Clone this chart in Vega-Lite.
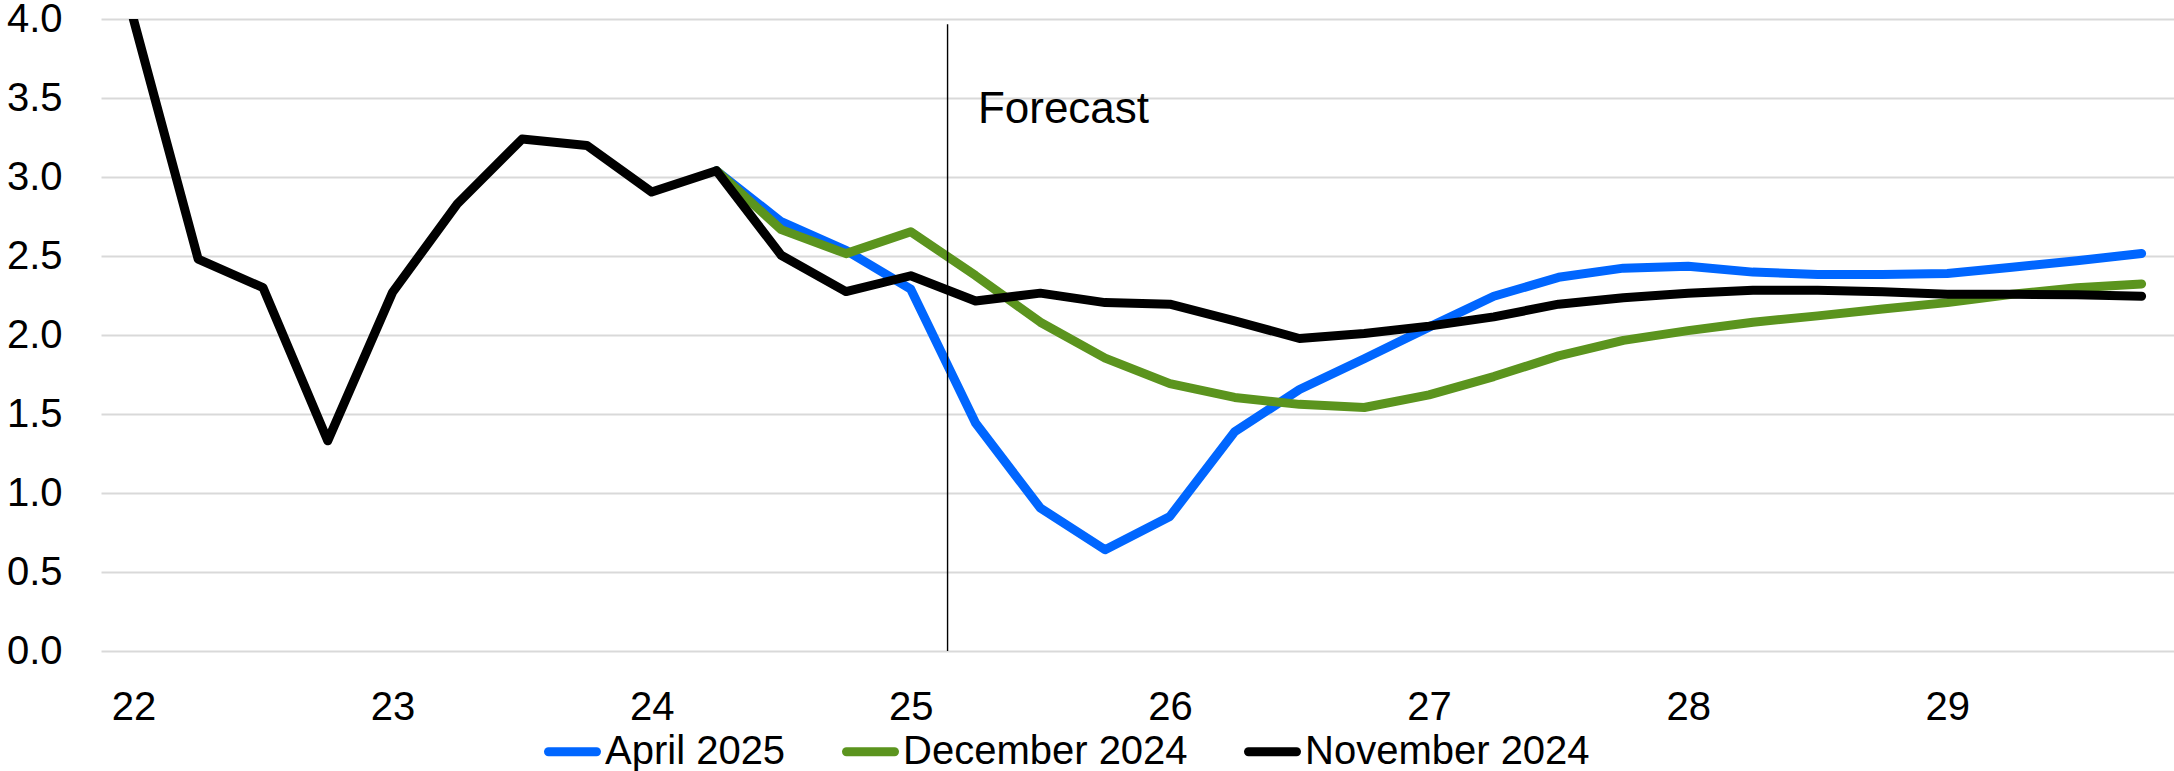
{
  "$schema": "https://vega.github.io/schema/vega-lite/v6.json",
  "autosize": {"type": "none"},
  "width": 2073,
  "height": 632,
  "padding": {"left": 101, "top": 19, "right": 0, "bottom": 120},
  "background": "#ffffff",
  "config": {
    "view": {"stroke": null},
    "font": "Liberation Sans",
    "axis": {
      "labelFont": "Liberation Sans",
      "labelFontSize": 40,
      "labelColor": "#000000",
      "domain": false,
      "ticks": false,
      "tickSize": 0,
      "title": null
    },
    "legend": {
      "labelFont": "Liberation Sans",
      "labelFontSize": 40,
      "labelColor": "#000000",
      "labelLimit": 0,
      "padding": 0
    }
  },
  "datasets": {
    "april": [
      {"t": 24.25, "series": "April 2025", "value": 3.04},
      {"t": 24.5, "series": "April 2025", "value": 2.717},
      {"t": 24.75, "series": "April 2025", "value": 2.535},
      {"t": 25.0, "series": "April 2025", "value": 2.29},
      {"t": 25.25, "series": "April 2025", "value": 1.443},
      {"t": 25.5, "series": "April 2025", "value": 0.905},
      {"t": 25.75, "series": "April 2025", "value": 0.641},
      {"t": 26.0, "series": "April 2025", "value": 0.852},
      {"t": 26.25, "series": "April 2025", "value": 1.387},
      {"t": 26.5, "series": "April 2025", "value": 1.655},
      {"t": 26.75, "series": "April 2025", "value": 1.85},
      {"t": 27.0, "series": "April 2025", "value": 2.05},
      {"t": 27.25, "series": "April 2025", "value": 2.245},
      {"t": 27.5, "series": "April 2025", "value": 2.365},
      {"t": 27.75, "series": "April 2025", "value": 2.423},
      {"t": 28.0, "series": "April 2025", "value": 2.435},
      {"t": 28.25, "series": "April 2025", "value": 2.398},
      {"t": 28.5, "series": "April 2025", "value": 2.383},
      {"t": 28.75, "series": "April 2025", "value": 2.383},
      {"t": 29.0, "series": "April 2025", "value": 2.389},
      {"t": 29.25, "series": "April 2025", "value": 2.429},
      {"t": 29.5, "series": "April 2025", "value": 2.47},
      {"t": 29.75, "series": "April 2025", "value": 2.516}
    ],
    "december": [
      {"t": 24.25, "series": "December 2024", "value": 3.04},
      {"t": 24.5, "series": "December 2024", "value": 2.667},
      {"t": 24.75, "series": "December 2024", "value": 2.515},
      {"t": 25.0, "series": "December 2024", "value": 2.654},
      {"t": 25.25, "series": "December 2024", "value": 2.376},
      {"t": 25.5, "series": "December 2024", "value": 2.081},
      {"t": 25.75, "series": "December 2024", "value": 1.854},
      {"t": 26.0, "series": "December 2024", "value": 1.692},
      {"t": 26.25, "series": "December 2024", "value": 1.605},
      {"t": 26.5, "series": "December 2024", "value": 1.561},
      {"t": 26.75, "series": "December 2024", "value": 1.541},
      {"t": 27.0, "series": "December 2024", "value": 1.621},
      {"t": 27.25, "series": "December 2024", "value": 1.737},
      {"t": 27.5, "series": "December 2024", "value": 1.868},
      {"t": 27.75, "series": "December 2024", "value": 1.966},
      {"t": 28.0, "series": "December 2024", "value": 2.028},
      {"t": 28.25, "series": "December 2024", "value": 2.081},
      {"t": 28.5, "series": "December 2024", "value": 2.121},
      {"t": 28.75, "series": "December 2024", "value": 2.165},
      {"t": 29.0, "series": "December 2024", "value": 2.205},
      {"t": 29.25, "series": "December 2024", "value": 2.258},
      {"t": 29.5, "series": "December 2024", "value": 2.299},
      {"t": 29.75, "series": "December 2024", "value": 2.323}
    ],
    "november": [
      {"t": 22.0, "series": "November 2024", "value": 4.0},
      {"t": 22.25, "series": "November 2024", "value": 2.48},
      {"t": 22.5, "series": "November 2024", "value": 2.3},
      {"t": 22.75, "series": "November 2024", "value": 1.33},
      {"t": 23.0, "series": "November 2024", "value": 2.27},
      {"t": 23.25, "series": "November 2024", "value": 2.83},
      {"t": 23.5, "series": "November 2024", "value": 3.24},
      {"t": 23.75, "series": "November 2024", "value": 3.2},
      {"t": 24.0, "series": "November 2024", "value": 2.905},
      {"t": 24.25, "series": "November 2024", "value": 3.04},
      {"t": 24.5, "series": "November 2024", "value": 2.505},
      {"t": 24.75, "series": "November 2024", "value": 2.275},
      {"t": 25.0, "series": "November 2024", "value": 2.375},
      {"t": 25.25, "series": "November 2024", "value": 2.215},
      {"t": 25.5, "series": "November 2024", "value": 2.265},
      {"t": 25.75, "series": "November 2024", "value": 2.205},
      {"t": 26.0, "series": "November 2024", "value": 2.195},
      {"t": 26.25, "series": "November 2024", "value": 2.09},
      {"t": 26.5, "series": "November 2024", "value": 1.978},
      {"t": 26.75, "series": "November 2024", "value": 2.009},
      {"t": 27.0, "series": "November 2024", "value": 2.056},
      {"t": 27.25, "series": "November 2024", "value": 2.115},
      {"t": 27.5, "series": "November 2024", "value": 2.195},
      {"t": 27.75, "series": "November 2024", "value": 2.236},
      {"t": 28.0, "series": "November 2024", "value": 2.264},
      {"t": 28.25, "series": "November 2024", "value": 2.283},
      {"t": 28.5, "series": "November 2024", "value": 2.283},
      {"t": 28.75, "series": "November 2024", "value": 2.274},
      {"t": 29.0, "series": "November 2024", "value": 2.258},
      {"t": 29.25, "series": "November 2024", "value": 2.258},
      {"t": 29.5, "series": "November 2024", "value": 2.255},
      {"t": 29.75, "series": "November 2024", "value": 2.246}
    ]
  },
  "encoding": {
    "x": {
      "type": "quantitative",
      "scale": {"domain": [21.875, 29.875], "nice": false, "zero": false},
      "axis": {
        "values": [22, 23, 24, 25, 26, 27, 28, 29],
        "format": "d",
        "grid": false,
        "labelPadding": 36
      }
    },
    "y": {
      "type": "quantitative",
      "scale": {"domain": [0, 4], "nice": false},
      "axis": {
        "values": [0, 0.5, 1, 1.5, 2, 2.5, 3, 3.5, 4],
        "format": ".1f",
        "grid": true,
        "gridColor": "#d9d9d9",
        "gridWidth": 2,
        "labelPadding": 39
      }
    }
  },
  "layer": [
    {
      "data": {"name": "april"},
      "mark": {"type": "line", "strokeWidth": 9, "strokeCap": "round", "strokeJoin": "round", "clip": true},
      "encoding": {
        "x": {"field": "t", "type": "quantitative"},
        "y": {"field": "value", "type": "quantitative"},
        "color": {
          "field": "series",
          "type": "nominal",
          "scale": {
            "domain": ["April 2025", "December 2024", "November 2024"],
            "range": ["#0066ff", "#5b941e", "#000000"]
          },
          "legend": {
            "title": null,
            "orient": "none",
            "direction": "horizontal",
            "legendX": 443,
            "legendY": 704,
            "symbolType": "stroke",
            "symbolSize": 2304,
            "symbolStrokeWidth": 9,
            "labelOffset": 4,
            "labelLimit": 0,
            "columnPadding": 42,
            "encode": {"symbols": {"update": {"strokeCap": {"value": "round"}}}}
          }
        }
      }
    },
    {
      "data": {"name": "december"},
      "mark": {"type": "line", "strokeWidth": 9, "strokeCap": "round", "strokeJoin": "round", "clip": true},
      "encoding": {
        "x": {"field": "t", "type": "quantitative"},
        "y": {"field": "value", "type": "quantitative"},
        "color": {"field": "series", "type": "nominal"}
      }
    },
    {
      "data": {"name": "november"},
      "mark": {"type": "line", "strokeWidth": 9, "strokeCap": "round", "strokeJoin": "round", "clip": true},
      "encoding": {
        "x": {"field": "t", "type": "quantitative"},
        "y": {"field": "value", "type": "quantitative"},
        "color": {"field": "series", "type": "nominal"}
      }
    },
    {
      "data": {"values": [{}]},
      "mark": {"type": "rule", "color": "#000000", "strokeWidth": 1.4},
      "encoding": {
        "x": {"datum": 25.142, "type": "quantitative"},
        "y": {"datum": 0, "type": "quantitative"},
        "y2": {"datum": 3.966}
      }
    },
    {
      "data": {"values": [{}]},
      "mark": {"type": "text", "text": "Forecast", "align": "left", "baseline": "alphabetic", "fontSize": 44, "font": "Liberation Sans", "color": "#000000"},
      "encoding": {
        "x": {"datum": 25.259, "type": "quantitative"},
        "y": {"datum": 3.34, "type": "quantitative"}
      }
    }
  ]
}
